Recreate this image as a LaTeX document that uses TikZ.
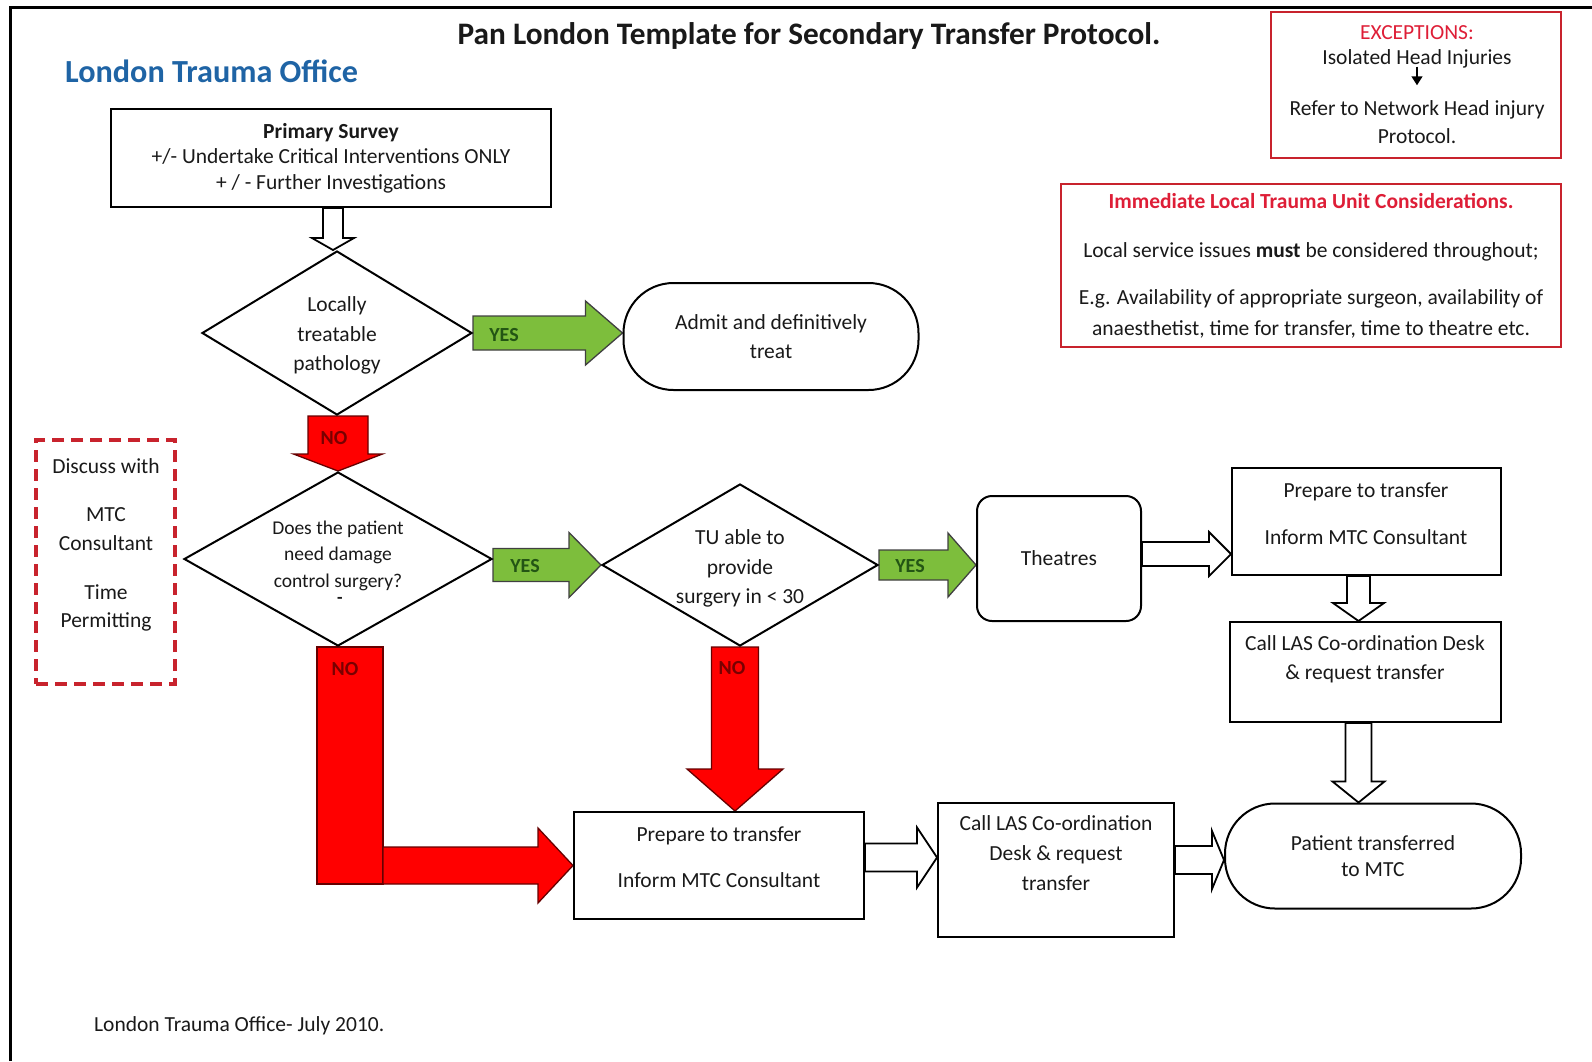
\documentclass[tikz,border=0pt]{standalone}
\usepackage{fontspec}
\setmainfont{Carlito}
\usetikzlibrary{calc,shapes.geometric,arrows.meta,backgrounds}

\definecolor{TraumaBlue}{RGB}{31,100,165}
\definecolor{AlertRed}{RGB}{222,30,55}
\definecolor{BorderRed}{RGB}{200,35,45}
\definecolor{YesGreen}{RGB}{125,190,60}
\definecolor{YesText}{RGB}{35,85,20}
\definecolor{NoRed}{RGB}{255,0,0}
\definecolor{NoText}{RGB}{120,0,0}
\colorlet{BodyText}{black!90}

% block arrow to the right: [style]{from}{to}{shaft half}{head half}{head length}
\newcommand\BlockArrowH[6][]{%
  \draw[#1] let \p1=#2, \p2=#3 in
    (\x1,\y1+#4) -- (\x2-#6,\y1+#4) -- (\x2-#6,\y1+#5) -- (\x2,\y1)
    -- (\x2-#6,\y1-#5) -- (\x2-#6,\y1-#4) -- (\x1,\y1-#4) -- cycle;}
% block arrow downwards
\newcommand\BlockArrowV[6][]{%
  \draw[#1] let \p1=#2, \p2=#3 in
    (\x1-#4,\y1) -- (\x1-#4,\y2+#6) -- (\x1-#5,\y2+#6) -- (\x1,\y2)
    -- (\x1+#5,\y2+#6) -- (\x1+#4,\y2+#6) -- (\x1+#4,\y1) -- cycle;}

\begin{document}
\begin{tikzpicture}[x=1pt,y=-1pt,
    body/.style={font=\fontsize{21.5}{29.4}\selectfont, align=center, text=BodyText, inner sep=2pt},
    box/.style={body, draw, line width=2pt},
    decision/.style={diamond, draw, line width=2pt, inner sep=0pt},
    redbox/.style={body, draw=BorderRed, line width=2pt},
    dashbox/.style={draw=BorderRed, line width=3.5pt, dash pattern=on 12pt off 7pt},
    hollow/.style={fill=white, draw=black, line width=1.8pt},
    greenarrow/.style={fill=YesGreen, draw=black!75, line width=1.3pt},
    redarrow/.style={fill=NoRed, draw=black!60!red, line width=1.3pt},
    yeslbl/.style={font=\bfseries\fontsize{20}{20}\selectfont, text=YesText, inner sep=0pt},
    nolbl/.style={font=\bfseries\fontsize{20}{20}\selectfont, text=NoText, inner sep=0pt}]

    \useasboundingbox (0,0) rectangle (1592,1061);
    \draw[line width=3pt] (10,1061) -- (10,7) -- (1592,7);

    \node[font=\bfseries\fontsize{31.3}{31}\selectfont, text=BodyText, inner sep=0pt] (title) at (809,36)
        {Pan London Template for Secondary Transfer Protocol.};
    \node[font=\bfseries\fontsize{32.2}{32}\selectfont, text=TraumaBlue, inner sep=0pt, anchor=west] (office) at (65,71)
        {London Trauma Office};
    \node[body, anchor=west, inner sep=0pt] (footer) at (94,1026) {London Trauma Office- July 2010.};

    % main flow
    \node[box, minimum width=440pt, minimum height=98pt, font=\fontsize{21.5}{25.5}\selectfont] (primary) at (331,158)
        {\textbf{Primary Survey}\\+/- Undertake Critical Interventions ONLY\\+ / - Further Investigations};

    \node[decision, minimum width=270pt, minimum height=164pt] (d1) at (337,333) {};
    \node[body] (d1text) at (337,335.5) {Locally\\treatable\\pathology};

    \node[box, rounded corners=50pt, minimum width=295pt, minimum height=107pt, font=\fontsize{21.5}{29}\selectfont] (admit) at (771,336.5)
        {Admit and definitively\\treat};

    \node[decision, minimum width=308pt, minimum height=174pt] (d2) at (338,559) {};
    \node[body, font=\fontsize{19.5}{26.5}\selectfont] (d2text) at (338,555.5) {Does the patient\\need damage\\control surgery?};
    \node[body, font=\bfseries\fontsize{18}{18}\selectfont] (d2dash) at (340,600) {-};

    \node[decision, minimum width=276pt, minimum height=162pt] (d3) at (740,565) {};
    \node[body] (d3text) at (740,568.5) {TU able to\\provide\\surgery in < 30};

    \node[box, rounded corners=15pt, minimum width=164pt, minimum height=125pt] (theatres) at (1059,558.5) {Theatres};

    \node[box, minimum width=269pt, minimum height=107pt] (prepR) at (1366.5,521.5) {};
    \node[body] (prepRtext) at (1366,513.5) {Prepare to transfer\\[17.5pt]Inform MTC Consultant};

    \node[box, minimum width=271pt, minimum height=100pt] (lasR) at (1365.5,672) {};
    \node[body, font=\fontsize{21.5}{29}\selectfont] (lasRtext) at (1365,659.5) {Call LAS Co-ordination Desk\\\& request transfer};

    \node[box, rounded corners=50pt, minimum width=296pt, minimum height=105pt, font=\fontsize{21.5}{26}\selectfont] (patient) at (1373,856)
        {Patient transferred\\to MTC};

    \node[box, minimum width=290pt, minimum height=107pt] (prepB) at (719,865.5) {};
    \node[body] (prepBtext) at (719,857) {Prepare to transfer\\[16.6pt]Inform MTC Consultant};

    \node[box, minimum width=236pt, minimum height=134pt] (lasB) at (1056,870) {};
    \node[body, font=\fontsize{21.5}{30}\selectfont] (lasBtext) at (1056,853) {Call LAS Co-ordination\\Desk \& request\\transfer};

    % side notes
    \node[dashbox, minimum width=139pt, minimum height=244pt] (discuss) at (105.5,562) {};
    \node[body, font=\fontsize{21.5}{28.5}\selectfont] (discussText) at (106,545)
        {Discuss with\\[19.5pt]MTC\\Consultant\\[20.5pt]Time\\Permitting};

    \node[redbox, minimum width=290pt, minimum height=146pt] (except) at (1416,85) {};
    \node[body, text=AlertRed] (excTitle) at (1417,32.5) {EXCEPTIONS:};
    \node[body] (isolated) at (1417,59) {Isolated Head Injuries};
    \node[body, font=\fontsize{21.5}{28}\selectfont] (refer) at (1417,122) {Refer to Network Head injury\\Protocol.};
    \draw[-{Triangle[length=9pt,width=11pt]}, line width=1.5pt, shorten <=-4pt, shorten >=13pt] (isolated) -- (refer);

    \node[redbox, minimum width=500pt, minimum height=163pt, font=\fontsize{21.5}{31}\selectfont] (immed) at (1311,265.5)
        {{\bfseries\color{AlertRed}Immediate Local Trauma Unit Considerations.}\\[18pt]
         Local service issues \textbf{must} be considered throughout;\\[16pt]
         E.g. Availability of appropriate surgeon, availability of\\
         anaesthetist, time for transfer, time to theatre etc.};

    \begin{pgfonlayer}{background}
        \BlockArrowV[hollow]{($(primary.south)+(2,0)$)}{(d1.north)}{10}{21}{12}

        \BlockArrowH[greenarrow]{(d1.east)}{(admit.west)}{17}{32}{37}
        \BlockArrowH[greenarrow]{(d2.east |- d3.west)}{(d3.west)}{16.5}{32.5}{32}
        \BlockArrowH[greenarrow]{(d3.east)}{(theatres.west)}{15}{32}{28}

        \BlockArrowV[redarrow]{($(d1.south)+(1,0)$)}{(d2.north)}{30}{44.5}{17}
        \BlockArrowV[redarrow]{($(d3.south)+(-5,0)$)}{(prepB.north)}{23.5}{48}{42}
        % bent NO arrow
        \coordinate (NoBend) at (350,865.5);
        \draw[redarrow] ($(d2.south -| NoBend)+(-33,0)$) rectangle ($(NoBend)+(33,18.5)$);
        \BlockArrowH[redarrow]{($(NoBend)+(33,0)$)}{(prepB.west)}{18.5}{37.5}{35}

        \BlockArrowH[hollow]{($(theatres.east)+(0,-4.5)$)}{(prepR.west)}{12}{22}{22}
        \BlockArrowV[hollow]{($(prepR.south)+(-8,0)$)}{(lasR.north)}{11.5}{25.5}{18}
        \BlockArrowV[hollow]{($(lasR.south)+(-7,0)$)}{(patient.north)}{13}{26}{21}
        \BlockArrowH[hollow]{($(prepB.east)+(0,-8)$)}{(lasB.west)}{14}{30}{20}
        \BlockArrowH[hollow]{($(lasB.east)+(0,-10)$)}{(patient.west)}{14}{29}{12}
    \end{pgfonlayer}

    \node[yeslbl] (yes1) at (504,335) {YES};
    \node[yeslbl] (yes2) at (525,566) {YES};
    \node[yeslbl] (yes3) at (910,566) {YES};
    \node[nolbl] (no1) at (334,438) {NO};
    \node[nolbl] (no2) at (345,669) {NO};
    \node[nolbl] (no3) at (732,668) {NO};
\end{tikzpicture}
\end{document}
